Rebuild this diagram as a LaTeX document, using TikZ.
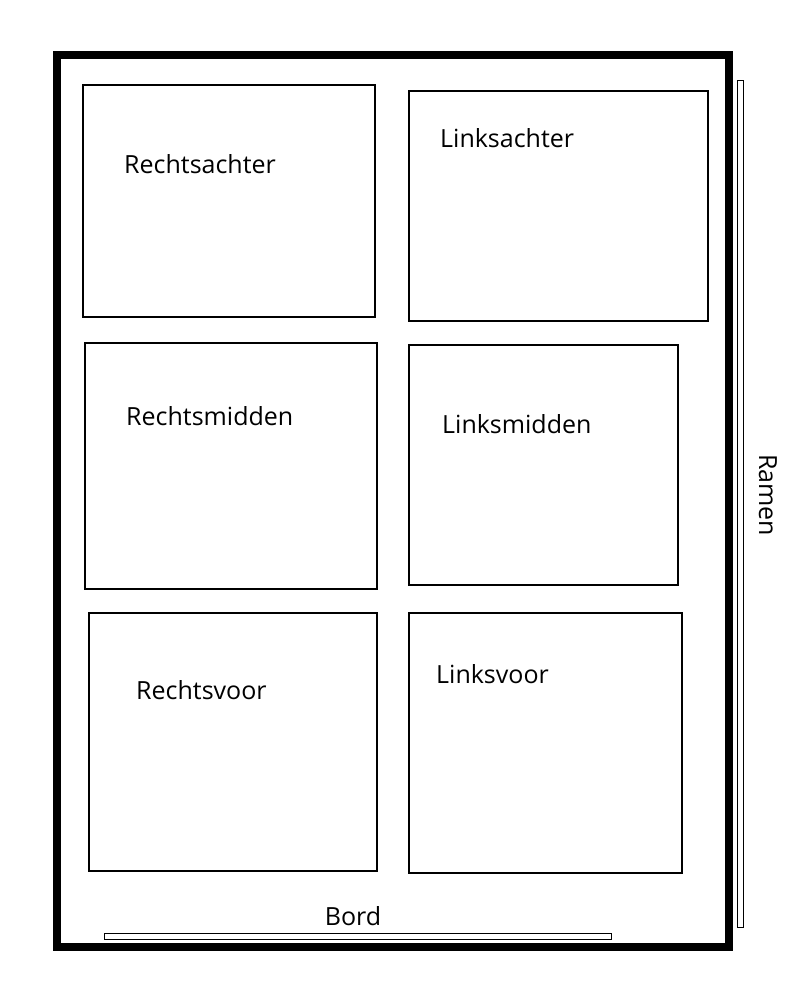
\documentclass[tikz,border=0pt]{standalone}
\usepackage{fontspec}
\setmainfont{Open Sans}
\usepackage {tikz}
\usetikzlibrary {positioning}
\tikzset{vak/.style = {draw, line width=2.5pt, inner sep=0pt, outer sep=0pt, anchor=north west}}
\tikzset{strook/.style = {draw, line width=1pt, inner sep=0pt, outer sep=0pt, anchor=north west}}
\tikzset{naam/.style = {anchor=west, inner sep=0pt, font=\fontsize{25}{30}\selectfont}}

\begin{document}
\begin{tikzpicture}[x=1pt, y=-1pt]
            \useasboundingbox (0,0) rectangle (788,1002);
            % lokaal
            \node[vak, line width=8pt, minimum width=672pt, minimum height=892pt] (lokaal) at (57,55) {};
            % tafels
            \node[vak, minimum width=292pt, minimum height=232pt] (ra) at (83,85) {};
            \node[vak, minimum width=299pt, minimum height=230pt] (la) at (409,91) {};
            \node[vak, minimum width=292pt, minimum height=246pt] (rm) at (85,343) {};
            \node[vak, minimum width=269pt, minimum height=240pt] (lm) at (409,345) {};
            \node[vak, minimum width=288pt, minimum height=258pt] (rv) at (89,613) {};
            \node[vak, minimum width=273pt, minimum height=260pt] (lv) at (409,613) {};
            \node[naam] (ra label) at (124,164) {Rechtsachter};
            \node[naam] (la label) at (440,138) {Linksachter};
            \node[naam] (rm label) at (126,416) {Rechtsmidden};
            \node[naam] (lm label) at (442,424) {Linksmidden};
            \node[naam] (rv label) at (136,690) {Rechtsvoor};
            \node[naam] (lv label) at (436,674) {Linksvoor};
            % bord en ramen
            \node[strook, minimum width=507pt, minimum height=6pt] (bord) at (104,933.5) {};
            \node[naam, anchor=south] (bord label) at (353,926) {Bord};
            \node[strook, minimum width=6pt, minimum height=847pt] (ramen) at (737.5,80) {};
            \node[naam, anchor=center, rotate=-90] (ramen label) at (768,495) {Ramen};
        \end{tikzpicture}
\end{document}
